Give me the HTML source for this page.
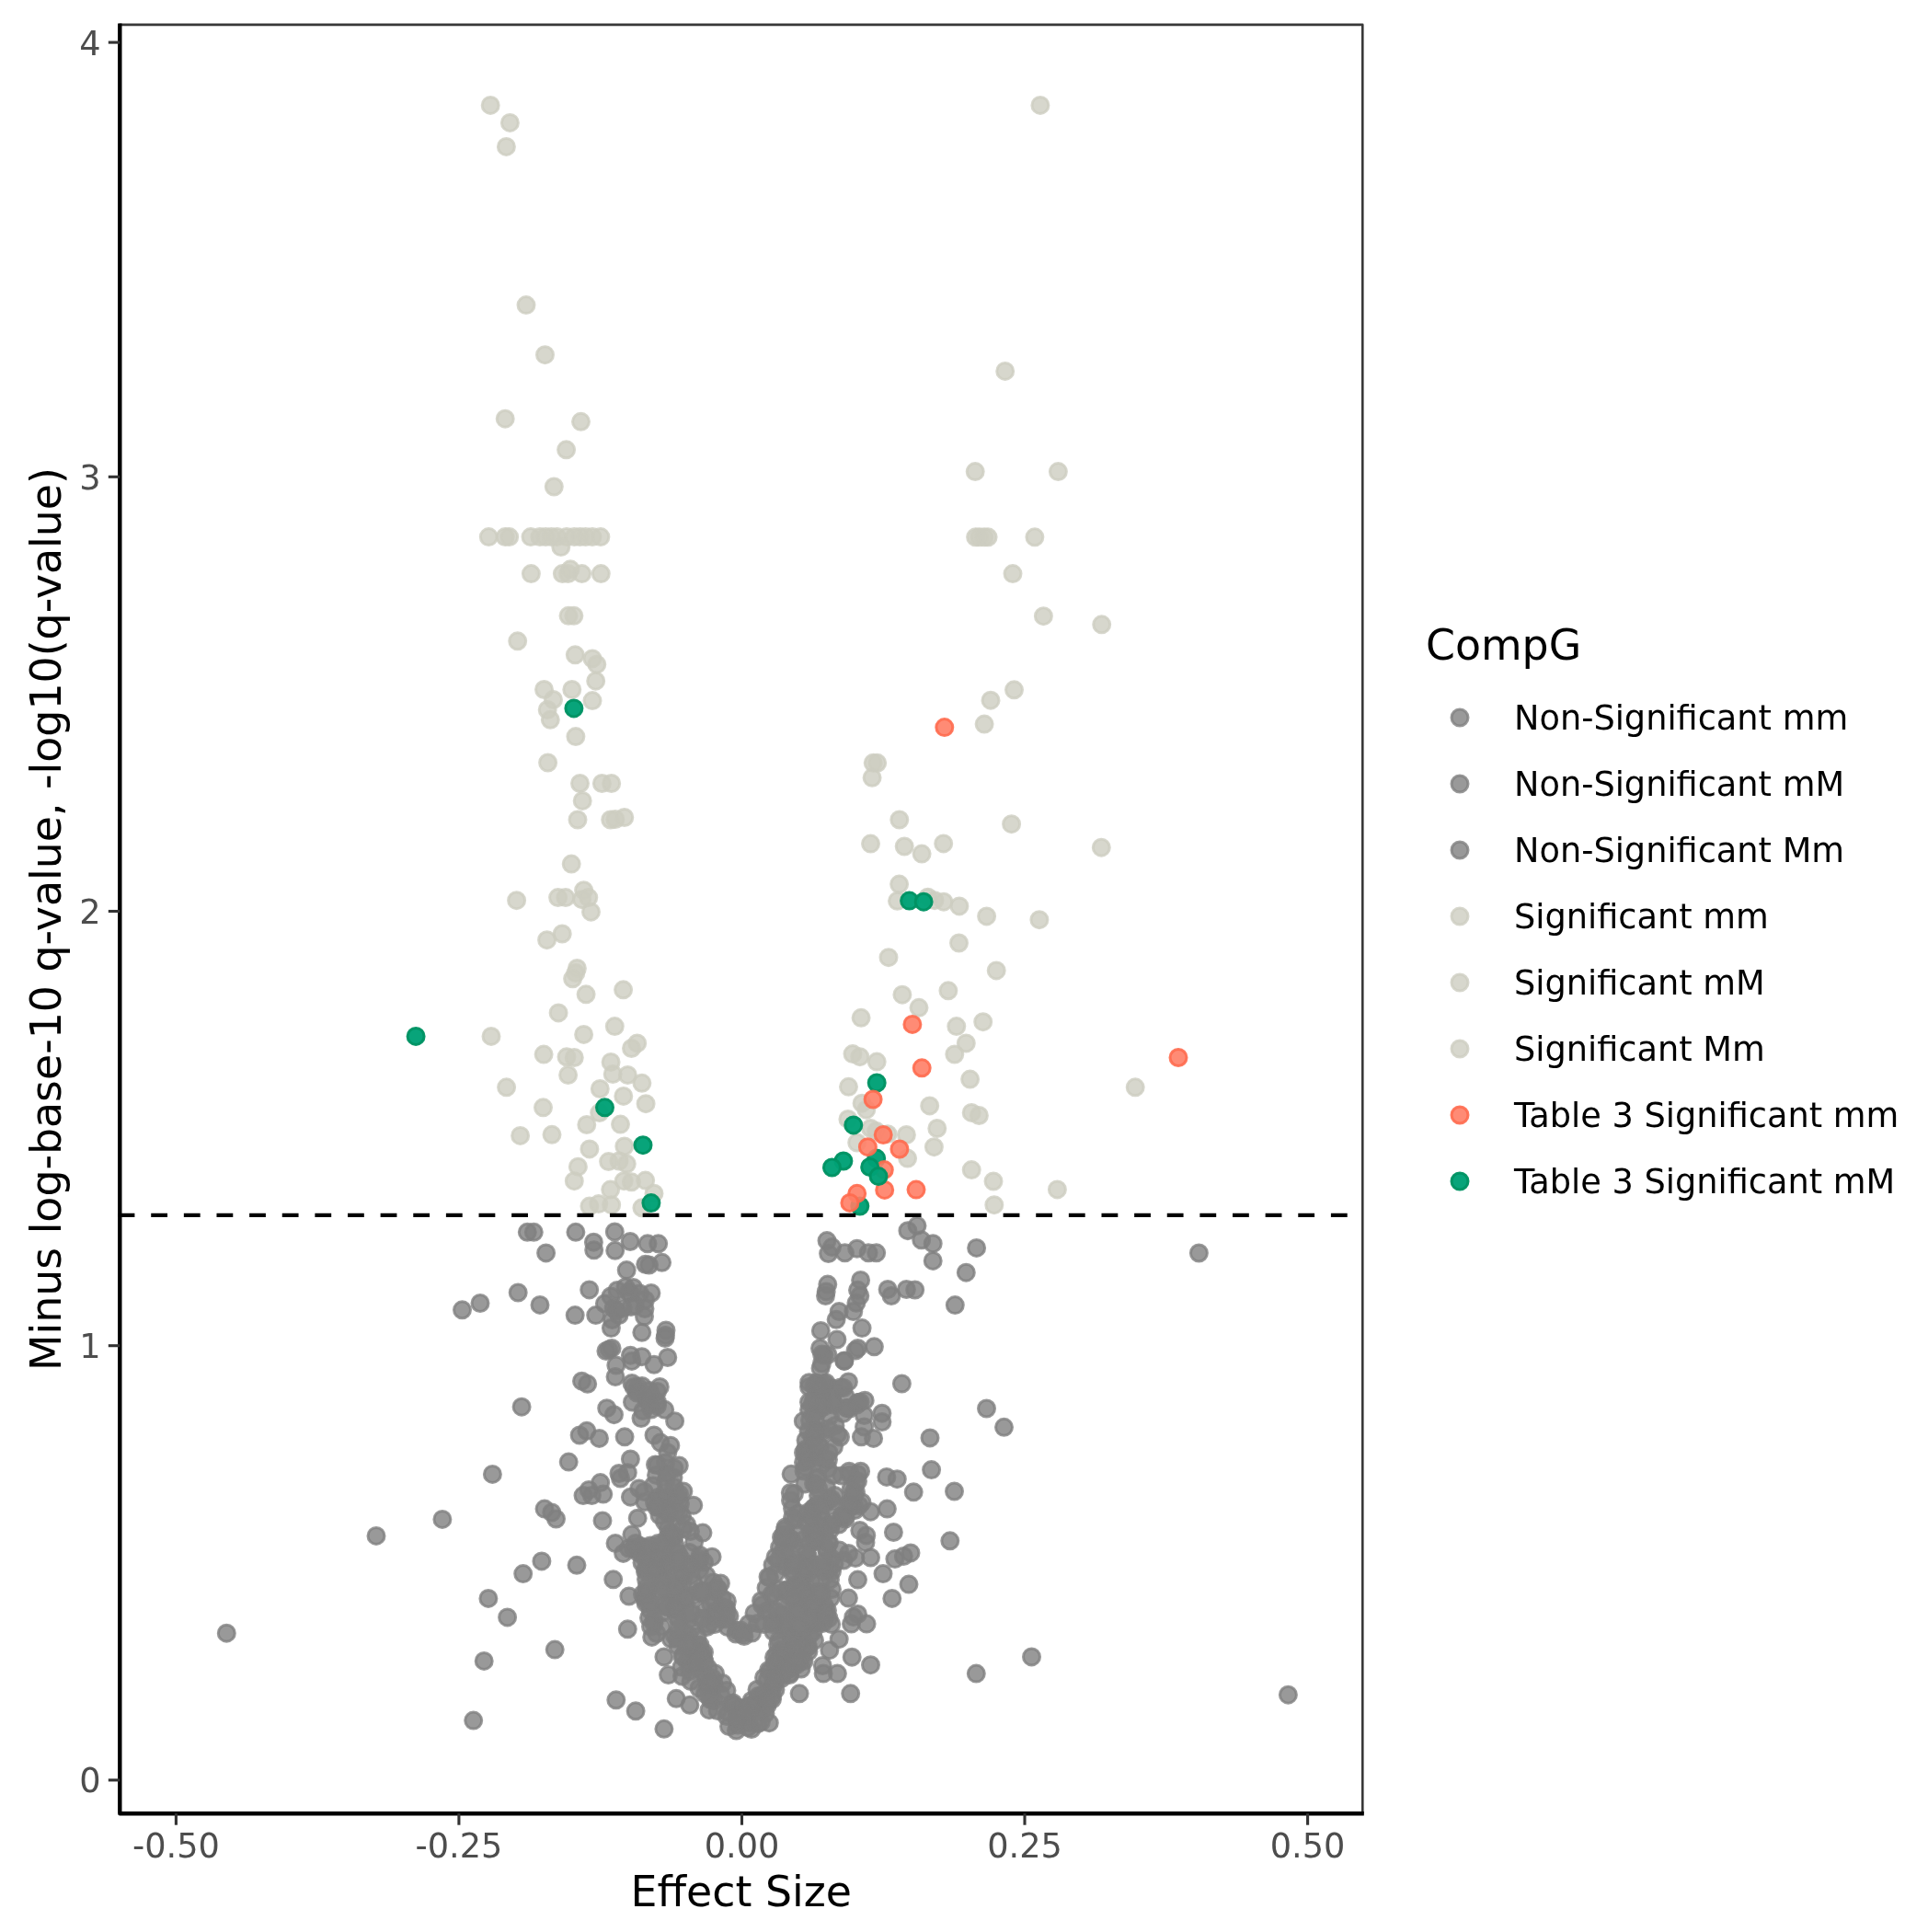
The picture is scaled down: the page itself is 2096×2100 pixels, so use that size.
<!DOCTYPE html>
<html><head><meta charset="utf-8"><title>Volcano plot</title>
<style>
html,body{margin:0;padding:0;background:#fff;}
svg{display:block;filter:blur(0.45px);}
text{font-family:"DejaVu Sans","Liberation Sans",sans-serif;}
.tk{font-size:36.7px;fill:#4d4d4d;}
.lb{font-size:36.7px;fill:#000;}
.ti{font-size:45.8px;fill:#000;}
.g circle{fill:#7f7f7f;fill-opacity:.8;stroke:#7f7f7f;stroke-opacity:.8;stroke-width:3;}
.l circle{fill:#cdcdc1;fill-opacity:.8;stroke:#cdcdc1;stroke-opacity:.8;stroke-width:3;}
.s circle{fill:#ff7e66;fill-opacity:.9;stroke:#ff6a4e;stroke-opacity:.9;stroke-width:3;}
.t circle{fill:#00a176;fill-opacity:.97;stroke:#009363;stroke-opacity:.97;stroke-width:3;}
</style></head><body>
<svg width="2096" height="2100" viewBox="0 0 2096 2100">
<rect width="2096" height="2100" fill="#fff"/>

<g class="g">
<circle cx="829.0" cy="1842.0" r="9.0"/>
<circle cx="749.0" cy="1760.0" r="9.0"/>
<circle cx="862.0" cy="1701.0" r="9.0"/>
<circle cx="765.5" cy="1698.0" r="9.0"/>
<circle cx="862.0" cy="1749.5" r="9.0"/>
<circle cx="884.0" cy="1672.0" r="9.0"/>
<circle cx="921.5" cy="1530.5" r="9.0"/>
<circle cx="685.0" cy="1405.5" r="9.0"/>
<circle cx="916.5" cy="1536.5" r="9.0"/>
<circle cx="748.5" cy="1777.5" r="9.0"/>
<circle cx="727.5" cy="1644.0" r="9.0"/>
<circle cx="907.0" cy="1512.5" r="9.0"/>
<circle cx="745.0" cy="1749.0" r="9.0"/>
<circle cx="741.0" cy="1812.0" r="9.0"/>
<circle cx="733.0" cy="1670.5" r="9.0"/>
<circle cx="777.5" cy="1819.0" r="9.0"/>
<circle cx="893.5" cy="1651.0" r="9.0"/>
<circle cx="800.0" cy="1776.0" r="9.0"/>
<circle cx="739.5" cy="1634.5" r="9.0"/>
<circle cx="898.5" cy="1756.0" r="9.0"/>
<circle cx="903.0" cy="1657.5" r="9.0"/>
<circle cx="739.5" cy="1715.5" r="9.0"/>
<circle cx="688.5" cy="1683.0" r="9.0"/>
<circle cx="905.5" cy="1632.5" r="9.0"/>
<circle cx="876.5" cy="1696.5" r="9.0"/>
<circle cx="887.0" cy="1554.5" r="9.0"/>
<circle cx="893.5" cy="1482.0" r="9.0"/>
<circle cx="864.5" cy="1652.0" r="9.0"/>
<circle cx="879.5" cy="1507.5" r="9.0"/>
<circle cx="753.5" cy="1807.0" r="9.0"/>
<circle cx="924.0" cy="1531.0" r="9.0"/>
<circle cx="850.5" cy="1811.0" r="9.0"/>
<circle cx="754.5" cy="1806.5" r="9.0"/>
<circle cx="719.0" cy="1695.0" r="9.0"/>
<circle cx="758.0" cy="1800.5" r="9.0"/>
<circle cx="770.0" cy="1835.0" r="9.0"/>
<circle cx="768.5" cy="1823.0" r="9.0"/>
<circle cx="732.0" cy="1606.0" r="9.0"/>
<circle cx="727.0" cy="1628.0" r="9.0"/>
<circle cx="878.5" cy="1790.0" r="9.0"/>
<circle cx="719.0" cy="1629.0" r="9.0"/>
<circle cx="935.0" cy="1524.0" r="9.0"/>
<circle cx="711.0" cy="1760.5" r="9.0"/>
<circle cx="699.0" cy="1533.5" r="9.0"/>
<circle cx="888.0" cy="1737.0" r="9.0"/>
<circle cx="737.5" cy="1740.5" r="9.0"/>
<circle cx="890.5" cy="1555.5" r="9.0"/>
<circle cx="856.5" cy="1734.0" r="9.0"/>
<circle cx="888.5" cy="1607.5" r="9.0"/>
<circle cx="823.0" cy="1860.0" r="9.0"/>
<circle cx="891.5" cy="1573.0" r="9.0"/>
<circle cx="885.0" cy="1506.5" r="9.0"/>
<circle cx="904.5" cy="1509.0" r="9.0"/>
<circle cx="755.5" cy="1734.0" r="9.0"/>
<circle cx="894.0" cy="1557.0" r="9.0"/>
<circle cx="854.0" cy="1796.5" r="9.0"/>
<circle cx="743.5" cy="1713.0" r="9.0"/>
<circle cx="896.0" cy="1744.5" r="9.0"/>
<circle cx="896.5" cy="1665.5" r="9.0"/>
<circle cx="894.5" cy="1510.5" r="9.0"/>
<circle cx="851.0" cy="1673.0" r="9.0"/>
<circle cx="866.0" cy="1809.5" r="9.0"/>
<circle cx="760.0" cy="1835.0" r="9.0"/>
<circle cx="731.0" cy="1671.5" r="9.0"/>
<circle cx="716.0" cy="1712.0" r="9.0"/>
<circle cx="883.0" cy="1650.0" r="9.0"/>
<circle cx="868.0" cy="1730.5" r="9.0"/>
<circle cx="830.0" cy="1765.5" r="9.0"/>
<circle cx="759.0" cy="1788.5" r="9.0"/>
<circle cx="893.5" cy="1659.0" r="9.0"/>
<circle cx="839.5" cy="1843.5" r="9.0"/>
<circle cx="733.5" cy="1746.5" r="9.0"/>
<circle cx="888.0" cy="1504.5" r="9.0"/>
<circle cx="841.5" cy="1822.0" r="9.0"/>
<circle cx="714.5" cy="1528.0" r="9.0"/>
<circle cx="686.0" cy="1420.5" r="9.0"/>
<circle cx="869.5" cy="1749.5" r="9.0"/>
<circle cx="669.0" cy="1496.5" r="9.0"/>
<circle cx="721.5" cy="1711.5" r="9.0"/>
<circle cx="877.5" cy="1790.0" r="9.0"/>
<circle cx="707.0" cy="1750.0" r="9.0"/>
<circle cx="708.0" cy="1517.0" r="9.0"/>
<circle cx="917.0" cy="1508.5" r="9.0"/>
<circle cx="851.5" cy="1685.5" r="9.0"/>
<circle cx="720.5" cy="1742.0" r="9.0"/>
<circle cx="875.0" cy="1613.0" r="9.0"/>
<circle cx="738.0" cy="1760.5" r="9.0"/>
<circle cx="869.5" cy="1721.5" r="9.0"/>
<circle cx="814.0" cy="1765.0" r="9.0"/>
<circle cx="769.0" cy="1830.0" r="9.0"/>
<circle cx="824.5" cy="1843.5" r="9.0"/>
<circle cx="760.5" cy="1795.5" r="9.0"/>
<circle cx="791.0" cy="1768.5" r="9.0"/>
<circle cx="851.0" cy="1766.5" r="9.0"/>
<circle cx="859.0" cy="1818.5" r="9.0"/>
<circle cx="800.5" cy="1881.0" r="9.0"/>
<circle cx="841.0" cy="1773.5" r="9.0"/>
<circle cx="789.5" cy="1760.0" r="9.0"/>
<circle cx="737.0" cy="1699.5" r="9.0"/>
<circle cx="866.5" cy="1795.0" r="9.0"/>
<circle cx="803.0" cy="1863.0" r="9.0"/>
<circle cx="913.5" cy="1562.0" r="9.0"/>
<circle cx="773.5" cy="1757.5" r="9.0"/>
<circle cx="845.5" cy="1787.5" r="9.0"/>
<circle cx="724.0" cy="1642.5" r="9.0"/>
<circle cx="926.5" cy="1637.0" r="9.0"/>
<circle cx="701.0" cy="1738.0" r="9.0"/>
<circle cx="702.0" cy="1705.5" r="9.0"/>
<circle cx="858.5" cy="1820.5" r="9.0"/>
<circle cx="761.0" cy="1788.0" r="9.0"/>
<circle cx="883.5" cy="1524.5" r="9.0"/>
<circle cx="752.0" cy="1700.5" r="9.0"/>
<circle cx="736.0" cy="1687.5" r="9.0"/>
<circle cx="932.5" cy="1524.5" r="9.0"/>
<circle cx="882.0" cy="1706.0" r="9.0"/>
<circle cx="884.0" cy="1773.5" r="9.0"/>
<circle cx="772.5" cy="1743.0" r="9.0"/>
<circle cx="702.5" cy="1521.0" r="9.0"/>
<circle cx="890.0" cy="1571.5" r="9.0"/>
<circle cx="917.0" cy="1696.0" r="9.0"/>
<circle cx="670.0" cy="1424.5" r="9.0"/>
<circle cx="727.0" cy="1646.0" r="9.0"/>
<circle cx="723.0" cy="1704.0" r="9.0"/>
<circle cx="837.5" cy="1816.5" r="9.0"/>
<circle cx="906.0" cy="1527.0" r="9.0"/>
<circle cx="881.5" cy="1665.0" r="9.0"/>
<circle cx="689.0" cy="1507.5" r="9.0"/>
<circle cx="775.5" cy="1720.0" r="9.0"/>
<circle cx="864.0" cy="1723.5" r="9.0"/>
<circle cx="888.5" cy="1584.5" r="9.0"/>
<circle cx="873.0" cy="1782.0" r="9.0"/>
<circle cx="900.0" cy="1596.5" r="9.0"/>
<circle cx="780.5" cy="1727.0" r="9.0"/>
<circle cx="776.0" cy="1833.0" r="9.0"/>
<circle cx="692.5" cy="1511.5" r="9.0"/>
<circle cx="730.0" cy="1729.5" r="9.0"/>
<circle cx="817.5" cy="1775.0" r="9.0"/>
<circle cx="823.5" cy="1764.5" r="9.0"/>
<circle cx="719.0" cy="1630.5" r="9.0"/>
<circle cx="915.0" cy="1604.0" r="9.0"/>
<circle cx="757.5" cy="1813.0" r="9.0"/>
<circle cx="757.5" cy="1795.0" r="9.0"/>
<circle cx="694.0" cy="1687.5" r="9.0"/>
<circle cx="880.5" cy="1544.0" r="9.0"/>
<circle cx="725.5" cy="1671.5" r="9.0"/>
<circle cx="664.0" cy="1409.0" r="9.0"/>
<circle cx="698.0" cy="1698.5" r="9.0"/>
<circle cx="723.5" cy="1590.0" r="9.0"/>
<circle cx="774.5" cy="1824.0" r="9.0"/>
<circle cx="715.0" cy="1592.5" r="9.0"/>
<circle cx="860.5" cy="1779.0" r="9.0"/>
<circle cx="742.5" cy="1661.5" r="9.0"/>
<circle cx="883.0" cy="1580.0" r="9.0"/>
<circle cx="853.5" cy="1663.0" r="9.0"/>
<circle cx="667.0" cy="1422.0" r="9.0"/>
<circle cx="705.0" cy="1728.5" r="9.0"/>
<circle cx="875.5" cy="1575.5" r="9.0"/>
<circle cx="859.0" cy="1813.5" r="9.0"/>
<circle cx="932.5" cy="1602.5" r="9.0"/>
<circle cx="723.0" cy="1622.0" r="9.0"/>
<circle cx="707.5" cy="1684.0" r="9.0"/>
<circle cx="791.5" cy="1861.0" r="9.0"/>
<circle cx="853.5" cy="1702.5" r="9.0"/>
<circle cx="861.5" cy="1710.0" r="9.0"/>
<circle cx="696.0" cy="1680.5" r="9.0"/>
<circle cx="743.5" cy="1773.5" r="9.0"/>
<circle cx="920.5" cy="1530.5" r="9.0"/>
<circle cx="885.0" cy="1564.0" r="9.0"/>
<circle cx="880.5" cy="1678.0" r="9.0"/>
<circle cx="884.5" cy="1612.5" r="9.0"/>
<circle cx="886.5" cy="1675.5" r="9.0"/>
<circle cx="888.5" cy="1605.5" r="9.0"/>
<circle cx="742.0" cy="1722.0" r="9.0"/>
<circle cx="863.5" cy="1623.5" r="9.0"/>
<circle cx="889.5" cy="1533.5" r="9.0"/>
<circle cx="752.0" cy="1770.0" r="9.0"/>
<circle cx="795.5" cy="1852.0" r="9.0"/>
<circle cx="785.5" cy="1829.5" r="9.0"/>
<circle cx="701.5" cy="1708.0" r="9.0"/>
<circle cx="736.0" cy="1743.0" r="9.0"/>
<circle cx="706.5" cy="1706.0" r="9.0"/>
<circle cx="758.5" cy="1697.5" r="9.0"/>
<circle cx="889.5" cy="1508.0" r="9.0"/>
<circle cx="904.0" cy="1521.5" r="9.0"/>
<circle cx="744.0" cy="1736.0" r="9.0"/>
<circle cx="915.5" cy="1648.0" r="9.0"/>
<circle cx="929.5" cy="1641.5" r="9.0"/>
<circle cx="801.5" cy="1861.5" r="9.0"/>
<circle cx="819.0" cy="1855.5" r="9.0"/>
<circle cx="708.0" cy="1532.0" r="9.0"/>
<circle cx="876.0" cy="1565.5" r="9.0"/>
<circle cx="733.5" cy="1778.0" r="9.0"/>
<circle cx="746.5" cy="1657.0" r="9.0"/>
<circle cx="904.0" cy="1694.0" r="9.0"/>
<circle cx="893.5" cy="1591.0" r="9.0"/>
<circle cx="886.5" cy="1613.5" r="9.0"/>
<circle cx="690.5" cy="1682.0" r="9.0"/>
<circle cx="768.5" cy="1768.5" r="9.0"/>
<circle cx="859.5" cy="1672.5" r="9.0"/>
<circle cx="841.5" cy="1731.5" r="9.0"/>
<circle cx="873.0" cy="1714.0" r="9.0"/>
<circle cx="896.5" cy="1586.0" r="9.0"/>
<circle cx="693.5" cy="1507.5" r="9.0"/>
<circle cx="899.0" cy="1686.0" r="9.0"/>
<circle cx="894.5" cy="1671.5" r="9.0"/>
<circle cx="870.5" cy="1782.5" r="9.0"/>
<circle cx="890.0" cy="1658.5" r="9.0"/>
<circle cx="877.0" cy="1694.5" r="9.0"/>
<circle cx="765.0" cy="1759.0" r="9.0"/>
<circle cx="901.5" cy="1706.0" r="9.0"/>
<circle cx="835.5" cy="1815.5" r="9.0"/>
<circle cx="784.5" cy="1746.5" r="9.0"/>
<circle cx="900.5" cy="1677.5" r="9.0"/>
<circle cx="779.0" cy="1726.0" r="9.0"/>
<circle cx="891.0" cy="1759.5" r="9.0"/>
<circle cx="758.0" cy="1779.0" r="9.0"/>
<circle cx="864.5" cy="1777.0" r="9.0"/>
<circle cx="891.0" cy="1511.0" r="9.0"/>
<circle cx="765.5" cy="1819.0" r="9.0"/>
<circle cx="776.0" cy="1848.5" r="9.0"/>
<circle cx="741.0" cy="1710.0" r="9.0"/>
<circle cx="739.5" cy="1730.5" r="9.0"/>
<circle cx="762.5" cy="1729.5" r="9.0"/>
<circle cx="747.0" cy="1784.5" r="9.0"/>
<circle cx="717.0" cy="1691.0" r="9.0"/>
<circle cx="714.0" cy="1775.5" r="9.0"/>
<circle cx="853.5" cy="1796.5" r="9.0"/>
<circle cx="683.5" cy="1404.5" r="9.0"/>
<circle cx="847.0" cy="1783.0" r="9.0"/>
<circle cx="937.0" cy="1633.0" r="9.0"/>
<circle cx="775.5" cy="1831.0" r="9.0"/>
<circle cx="861.0" cy="1699.0" r="9.0"/>
<circle cx="729.5" cy="1781.5" r="9.0"/>
<circle cx="719.0" cy="1768.0" r="9.0"/>
<circle cx="890.0" cy="1523.0" r="9.0"/>
<circle cx="840.0" cy="1701.0" r="9.0"/>
<circle cx="882.0" cy="1719.0" r="9.0"/>
<circle cx="777.0" cy="1765.5" r="9.0"/>
<circle cx="729.0" cy="1666.0" r="9.0"/>
<circle cx="813.0" cy="1877.5" r="9.0"/>
<circle cx="902.5" cy="1539.0" r="9.0"/>
<circle cx="740.5" cy="1694.5" r="9.0"/>
<circle cx="877.5" cy="1746.0" r="9.0"/>
<circle cx="754.5" cy="1676.5" r="9.0"/>
<circle cx="750.0" cy="1808.5" r="9.0"/>
<circle cx="889.5" cy="1730.0" r="9.0"/>
<circle cx="834.0" cy="1854.0" r="9.0"/>
<circle cx="846.5" cy="1804.0" r="9.0"/>
<circle cx="751.5" cy="1787.5" r="9.0"/>
<circle cx="836.5" cy="1750.0" r="9.0"/>
<circle cx="839.5" cy="1847.0" r="9.0"/>
<circle cx="883.5" cy="1642.0" r="9.0"/>
<circle cx="904.0" cy="1629.5" r="9.0"/>
<circle cx="912.0" cy="1657.0" r="9.0"/>
<circle cx="735.5" cy="1757.0" r="9.0"/>
<circle cx="904.5" cy="1708.0" r="9.0"/>
<circle cx="759.5" cy="1697.0" r="9.0"/>
<circle cx="887.5" cy="1754.5" r="9.0"/>
<circle cx="897.5" cy="1752.0" r="9.0"/>
<circle cx="880.0" cy="1777.5" r="9.0"/>
<circle cx="723.5" cy="1700.0" r="9.0"/>
<circle cx="872.5" cy="1744.5" r="9.0"/>
<circle cx="847.5" cy="1682.0" r="9.0"/>
<circle cx="665.5" cy="1434.5" r="9.0"/>
<circle cx="852.0" cy="1668.0" r="9.0"/>
<circle cx="703.0" cy="1725.5" r="9.0"/>
<circle cx="771.0" cy="1843.5" r="9.0"/>
<circle cx="907.0" cy="1699.5" r="9.0"/>
<circle cx="848.5" cy="1797.5" r="9.0"/>
<circle cx="873.5" cy="1589.5" r="9.0"/>
<circle cx="797.0" cy="1851.0" r="9.0"/>
<circle cx="814.0" cy="1872.5" r="9.0"/>
<circle cx="751.0" cy="1712.5" r="9.0"/>
<circle cx="843.0" cy="1836.5" r="9.0"/>
<circle cx="874.0" cy="1673.5" r="9.0"/>
<circle cx="868.5" cy="1805.5" r="9.0"/>
<circle cx="833.0" cy="1726.0" r="9.0"/>
<circle cx="884.0" cy="1765.0" r="9.0"/>
<circle cx="790.0" cy="1865.5" r="9.0"/>
<circle cx="763.5" cy="1732.0" r="9.0"/>
<circle cx="849.5" cy="1796.0" r="9.0"/>
<circle cx="719.5" cy="1721.0" r="9.0"/>
<circle cx="875.5" cy="1594.5" r="9.0"/>
<circle cx="690.5" cy="1419.0" r="9.0"/>
<circle cx="890.0" cy="1618.5" r="9.0"/>
<circle cx="713.5" cy="1638.0" r="9.0"/>
<circle cx="673.0" cy="1429.5" r="9.0"/>
<circle cx="777.5" cy="1742.5" r="9.0"/>
<circle cx="900.5" cy="1586.5" r="9.0"/>
<circle cx="874.0" cy="1599.0" r="9.0"/>
<circle cx="726.5" cy="1661.5" r="9.0"/>
<circle cx="768.0" cy="1712.5" r="9.0"/>
<circle cx="715.5" cy="1627.5" r="9.0"/>
<circle cx="692.5" cy="1514.0" r="9.0"/>
<circle cx="780.0" cy="1859.5" r="9.0"/>
<circle cx="879.5" cy="1532.5" r="9.0"/>
<circle cx="823.5" cy="1847.0" r="9.0"/>
<circle cx="783.5" cy="1842.0" r="9.0"/>
<circle cx="878.5" cy="1735.0" r="9.0"/>
<circle cx="908.0" cy="1549.5" r="9.0"/>
<circle cx="698.5" cy="1733.0" r="9.0"/>
<circle cx="737.0" cy="1750.5" r="9.0"/>
<circle cx="713.5" cy="1692.0" r="9.0"/>
<circle cx="865.5" cy="1807.5" r="9.0"/>
<circle cx="861.5" cy="1807.0" r="9.0"/>
<circle cx="930.0" cy="1612.0" r="9.0"/>
<circle cx="749.5" cy="1702.5" r="9.0"/>
<circle cx="870.5" cy="1787.0" r="9.0"/>
<circle cx="843.0" cy="1762.0" r="9.0"/>
<circle cx="868.0" cy="1645.0" r="9.0"/>
<circle cx="783.0" cy="1759.5" r="9.0"/>
<circle cx="742.0" cy="1800.5" r="9.0"/>
<circle cx="732.0" cy="1748.5" r="9.0"/>
<circle cx="862.0" cy="1780.5" r="9.0"/>
<circle cx="727.0" cy="1730.5" r="9.0"/>
<circle cx="704.5" cy="1694.5" r="9.0"/>
<circle cx="886.5" cy="1555.0" r="9.0"/>
<circle cx="770.5" cy="1765.5" r="9.0"/>
<circle cx="801.0" cy="1859.0" r="9.0"/>
<circle cx="750.0" cy="1799.5" r="9.0"/>
<circle cx="900.0" cy="1472.5" r="9.0"/>
<circle cx="788.5" cy="1748.5" r="9.0"/>
<circle cx="752.0" cy="1752.5" r="9.0"/>
<circle cx="919.0" cy="1648.0" r="9.0"/>
<circle cx="841.5" cy="1801.5" r="9.0"/>
<circle cx="854.5" cy="1729.0" r="9.0"/>
<circle cx="861.5" cy="1649.5" r="9.0"/>
<circle cx="903.0" cy="1737.0" r="9.0"/>
<circle cx="824.0" cy="1873.5" r="9.0"/>
<circle cx="879.0" cy="1795.0" r="9.0"/>
<circle cx="751.0" cy="1754.0" r="9.0"/>
<circle cx="871.5" cy="1732.5" r="9.0"/>
<circle cx="724.5" cy="1677.0" r="9.0"/>
<circle cx="881.5" cy="1762.5" r="9.0"/>
<circle cx="889.5" cy="1511.0" r="9.0"/>
<circle cx="833.0" cy="1751.5" r="9.0"/>
<circle cx="884.5" cy="1639.0" r="9.0"/>
<circle cx="765.5" cy="1796.0" r="9.0"/>
<circle cx="755.5" cy="1799.0" r="9.0"/>
<circle cx="896.0" cy="1708.0" r="9.0"/>
<circle cx="714.5" cy="1512.5" r="9.0"/>
<circle cx="876.5" cy="1739.0" r="9.0"/>
<circle cx="907.5" cy="1625.5" r="9.0"/>
<circle cx="776.0" cy="1829.5" r="9.0"/>
<circle cx="761.5" cy="1797.0" r="9.0"/>
<circle cx="703.5" cy="1729.5" r="9.0"/>
<circle cx="900.5" cy="1553.0" r="9.0"/>
<circle cx="711.0" cy="1764.5" r="9.0"/>
<circle cx="906.5" cy="1572.5" r="9.0"/>
<circle cx="792.5" cy="1876.5" r="9.0"/>
<circle cx="822.0" cy="1851.5" r="9.0"/>
<circle cx="736.5" cy="1627.0" r="9.0"/>
<circle cx="707.0" cy="1680.0" r="9.0"/>
<circle cx="701.5" cy="1516.0" r="9.0"/>
<circle cx="878.5" cy="1692.0" r="9.0"/>
<circle cx="910.5" cy="1559.0" r="9.0"/>
<circle cx="886.0" cy="1541.5" r="9.0"/>
<circle cx="851.0" cy="1758.5" r="9.0"/>
<circle cx="722.5" cy="1745.5" r="9.0"/>
<circle cx="801.5" cy="1870.5" r="9.0"/>
<circle cx="906.0" cy="1653.0" r="9.0"/>
<circle cx="884.0" cy="1538.0" r="9.0"/>
<circle cx="864.5" cy="1764.5" r="9.0"/>
<circle cx="865.0" cy="1804.5" r="9.0"/>
<circle cx="901.0" cy="1759.0" r="9.0"/>
<circle cx="883.0" cy="1563.0" r="9.0"/>
<circle cx="815.0" cy="1854.0" r="9.0"/>
<circle cx="770.0" cy="1813.5" r="9.0"/>
<circle cx="828.5" cy="1744.5" r="9.0"/>
<circle cx="734.5" cy="1695.5" r="9.0"/>
<circle cx="832.0" cy="1862.5" r="9.0"/>
<circle cx="887.0" cy="1673.5" r="9.0"/>
<circle cx="898.5" cy="1683.5" r="9.0"/>
<circle cx="701.0" cy="1422.5" r="9.0"/>
<circle cx="726.0" cy="1747.0" r="9.0"/>
<circle cx="875.0" cy="1729.0" r="9.0"/>
<circle cx="872.0" cy="1791.5" r="9.0"/>
<circle cx="876.0" cy="1581.0" r="9.0"/>
<circle cx="723.5" cy="1610.5" r="9.0"/>
<circle cx="714.0" cy="1704.0" r="9.0"/>
<circle cx="701.0" cy="1632.5" r="9.0"/>
<circle cx="700.5" cy="1621.5" r="9.0"/>
<circle cx="905.0" cy="1522.5" r="9.0"/>
<circle cx="836.5" cy="1714.5" r="9.0"/>
<circle cx="793.0" cy="1756.5" r="9.0"/>
<circle cx="873.5" cy="1579.0" r="9.0"/>
<circle cx="722.0" cy="1726.5" r="9.0"/>
<circle cx="886.0" cy="1638.5" r="9.0"/>
<circle cx="878.0" cy="1587.5" r="9.0"/>
<circle cx="734.0" cy="1747.0" r="9.0"/>
<circle cx="847.0" cy="1822.5" r="9.0"/>
<circle cx="928.0" cy="1636.0" r="9.0"/>
<circle cx="895.5" cy="1529.0" r="9.0"/>
<circle cx="738.5" cy="1643.5" r="9.0"/>
<circle cx="928.0" cy="1622.0" r="9.0"/>
<circle cx="773.0" cy="1828.5" r="9.0"/>
<circle cx="827.5" cy="1740.0" r="9.0"/>
<circle cx="751.0" cy="1827.5" r="9.0"/>
<circle cx="719.5" cy="1678.5" r="9.0"/>
<circle cx="789.5" cy="1748.0" r="9.0"/>
<circle cx="893.5" cy="1759.0" r="9.0"/>
<circle cx="849.5" cy="1671.0" r="9.0"/>
<circle cx="763.5" cy="1798.0" r="9.0"/>
<circle cx="751.0" cy="1791.0" r="9.0"/>
<circle cx="737.5" cy="1689.0" r="9.0"/>
<circle cx="881.0" cy="1701.5" r="9.0"/>
<circle cx="749.5" cy="1687.5" r="9.0"/>
<circle cx="855.0" cy="1728.0" r="9.0"/>
<circle cx="717.0" cy="1647.0" r="9.0"/>
<circle cx="688.5" cy="1399.5" r="9.0"/>
<circle cx="698.0" cy="1506.5" r="9.0"/>
<circle cx="737.0" cy="1789.0" r="9.0"/>
<circle cx="702.5" cy="1716.5" r="9.0"/>
<circle cx="706.0" cy="1526.5" r="9.0"/>
<circle cx="841.0" cy="1763.0" r="9.0"/>
<circle cx="853.0" cy="1794.0" r="9.0"/>
<circle cx="885.5" cy="1701.0" r="9.0"/>
<circle cx="766.5" cy="1750.5" r="9.0"/>
<circle cx="702.0" cy="1742.5" r="9.0"/>
<circle cx="894.5" cy="1764.5" r="9.0"/>
<circle cx="902.5" cy="1663.0" r="9.0"/>
<circle cx="914.0" cy="1508.0" r="9.0"/>
<circle cx="844.5" cy="1798.0" r="9.0"/>
<circle cx="713.5" cy="1603.5" r="9.0"/>
<circle cx="801.0" cy="1772.5" r="9.0"/>
<circle cx="671.0" cy="1402.5" r="9.0"/>
<circle cx="849.5" cy="1824.5" r="9.0"/>
<circle cx="760.5" cy="1706.5" r="9.0"/>
<circle cx="849.5" cy="1793.0" r="9.0"/>
<circle cx="843.0" cy="1710.5" r="9.0"/>
<circle cx="710.0" cy="1615.0" r="9.0"/>
<circle cx="727.5" cy="1643.0" r="9.0"/>
<circle cx="711.5" cy="1633.0" r="9.0"/>
<circle cx="852.5" cy="1739.5" r="9.0"/>
<circle cx="924.0" cy="1634.0" r="9.0"/>
<circle cx="919.0" cy="1517.5" r="9.0"/>
<circle cx="833.0" cy="1851.5" r="9.0"/>
<circle cx="854.0" cy="1660.0" r="9.0"/>
<circle cx="885.5" cy="1556.5" r="9.0"/>
<circle cx="863.0" cy="1792.5" r="9.0"/>
<circle cx="868.0" cy="1802.0" r="9.0"/>
<circle cx="883.5" cy="1742.0" r="9.0"/>
<circle cx="695.5" cy="1406.0" r="9.0"/>
<circle cx="747.0" cy="1806.0" r="9.0"/>
<circle cx="741.5" cy="1648.0" r="9.0"/>
<circle cx="879.0" cy="1577.5" r="9.0"/>
<circle cx="893.5" cy="1472.0" r="9.0"/>
<circle cx="899.5" cy="1750.5" r="9.0"/>
<circle cx="874.5" cy="1730.0" r="9.0"/>
<circle cx="866.0" cy="1751.5" r="9.0"/>
<circle cx="743.0" cy="1799.5" r="9.0"/>
<circle cx="871.5" cy="1723.0" r="9.0"/>
<circle cx="714.5" cy="1524.0" r="9.0"/>
<circle cx="797.5" cy="1854.0" r="9.0"/>
<circle cx="874.0" cy="1713.5" r="9.0"/>
<circle cx="918.0" cy="1479.0" r="9.0"/>
<circle cx="718.0" cy="1729.0" r="9.0"/>
<circle cx="901.0" cy="1629.5" r="9.0"/>
<circle cx="741.5" cy="1822.0" r="9.0"/>
<circle cx="772.5" cy="1847.5" r="9.0"/>
<circle cx="930.0" cy="1468.0" r="9.0"/>
<circle cx="885.5" cy="1783.0" r="9.0"/>
<circle cx="733.0" cy="1596.0" r="9.0"/>
<circle cx="779.0" cy="1751.0" r="9.0"/>
<circle cx="861.5" cy="1639.5" r="9.0"/>
<circle cx="860.5" cy="1674.0" r="9.0"/>
<circle cx="701.5" cy="1413.0" r="9.0"/>
<circle cx="706.5" cy="1743.0" r="9.0"/>
<circle cx="699.5" cy="1691.5" r="9.0"/>
<circle cx="895.5" cy="1755.5" r="9.0"/>
<circle cx="848.5" cy="1756.0" r="9.0"/>
<circle cx="853.0" cy="1687.0" r="9.0"/>
<circle cx="831.5" cy="1843.0" r="9.0"/>
<circle cx="886.0" cy="1742.5" r="9.0"/>
<circle cx="902.5" cy="1717.0" r="9.0"/>
<circle cx="848.0" cy="1803.5" r="9.0"/>
<circle cx="776.5" cy="1755.5" r="9.0"/>
<circle cx="702.5" cy="1682.5" r="9.0"/>
<circle cx="865.5" cy="1786.0" r="9.0"/>
<circle cx="722.0" cy="1683.5" r="9.0"/>
<circle cx="761.0" cy="1694.0" r="9.0"/>
<circle cx="736.5" cy="1781.5" r="9.0"/>
<circle cx="725.0" cy="1602.5" r="9.0"/>
<circle cx="925.5" cy="1635.5" r="9.0"/>
<circle cx="847.0" cy="1765.5" r="9.0"/>
<circle cx="871.5" cy="1711.0" r="9.0"/>
<circle cx="805.5" cy="1856.5" r="9.0"/>
<circle cx="896.5" cy="1635.5" r="9.0"/>
<circle cx="892.5" cy="1517.5" r="9.0"/>
<circle cx="706.0" cy="1511.5" r="9.0"/>
<circle cx="840.5" cy="1832.5" r="9.0"/>
<circle cx="842.5" cy="1808.0" r="9.0"/>
<circle cx="892.0" cy="1720.5" r="9.0"/>
<circle cx="839.5" cy="1834.5" r="9.0"/>
<circle cx="770.5" cy="1830.0" r="9.0"/>
<circle cx="722.5" cy="1654.0" r="9.0"/>
<circle cx="705.5" cy="1758.5" r="9.0"/>
<circle cx="761.0" cy="1690.5" r="9.0"/>
<circle cx="901.5" cy="1677.0" r="9.0"/>
<circle cx="846.5" cy="1695.5" r="9.0"/>
<circle cx="805.0" cy="1772.0" r="9.0"/>
<circle cx="827.5" cy="1871.5" r="9.0"/>
<circle cx="712.5" cy="1592.0" r="9.0"/>
<circle cx="839.5" cy="1765.5" r="9.0"/>
<circle cx="894.0" cy="1522.5" r="9.0"/>
<circle cx="853.5" cy="1771.5" r="9.0"/>
<circle cx="885.0" cy="1763.0" r="9.0"/>
<circle cx="873.5" cy="1703.0" r="9.0"/>
<circle cx="817.0" cy="1848.5" r="9.0"/>
<circle cx="766.5" cy="1841.0" r="9.0"/>
<circle cx="716.0" cy="1638.5" r="9.0"/>
<circle cx="776.0" cy="1729.5" r="9.0"/>
<circle cx="746.5" cy="1788.0" r="9.0"/>
<circle cx="859.5" cy="1631.0" r="9.0"/>
<circle cx="894.0" cy="1528.0" r="9.0"/>
<circle cx="712.5" cy="1703.0" r="9.0"/>
<circle cx="891.0" cy="1763.5" r="9.0"/>
<circle cx="683.5" cy="1683.0" r="9.0"/>
<circle cx="839.0" cy="1733.0" r="9.0"/>
<circle cx="843.5" cy="1809.5" r="9.0"/>
<circle cx="766.0" cy="1806.0" r="9.0"/>
<circle cx="893.0" cy="1731.5" r="9.0"/>
<circle cx="809.0" cy="1778.5" r="9.0"/>
<circle cx="915.0" cy="1647.5" r="9.0"/>
<circle cx="889.0" cy="1635.0" r="9.0"/>
<circle cx="906.0" cy="1525.0" r="9.0"/>
<circle cx="869.5" cy="1725.5" r="9.0"/>
<circle cx="802.0" cy="1875.0" r="9.0"/>
<circle cx="885.5" cy="1520.5" r="9.0"/>
<circle cx="906.0" cy="1603.5" r="9.0"/>
<circle cx="687.5" cy="1524.0" r="9.0"/>
<circle cx="864.0" cy="1725.5" r="9.0"/>
<circle cx="874.0" cy="1805.5" r="9.0"/>
<circle cx="888.5" cy="1525.5" r="9.0"/>
<circle cx="876.0" cy="1704.5" r="9.0"/>
<circle cx="896.0" cy="1473.0" r="9.0"/>
<circle cx="764.5" cy="1802.5" r="9.0"/>
<circle cx="700.5" cy="1431.0" r="9.0"/>
<circle cx="734.5" cy="1726.0" r="9.0"/>
<circle cx="737.5" cy="1696.0" r="9.0"/>
<circle cx="880.0" cy="1643.0" r="9.0"/>
<circle cx="878.0" cy="1761.0" r="9.0"/>
<circle cx="817.0" cy="1879.5" r="9.0"/>
<circle cx="930.0" cy="1693.5" r="9.0"/>
<circle cx="894.0" cy="1509.0" r="9.0"/>
<circle cx="863.0" cy="1678.5" r="9.0"/>
<circle cx="893.0" cy="1637.0" r="9.0"/>
<circle cx="687.0" cy="1503.5" r="9.0"/>
<circle cx="691.0" cy="1677.5" r="9.0"/>
<circle cx="901.0" cy="1579.0" r="9.0"/>
<circle cx="807.0" cy="1862.5" r="9.0"/>
<circle cx="848.5" cy="1820.5" r="9.0"/>
<circle cx="830.5" cy="1823.5" r="9.0"/>
<circle cx="817.0" cy="1854.0" r="9.0"/>
<circle cx="855.5" cy="1814.5" r="9.0"/>
<circle cx="820.0" cy="1753.5" r="9.0"/>
<circle cx="720.0" cy="1716.0" r="9.0"/>
<circle cx="895.0" cy="1703.5" r="9.0"/>
<circle cx="835.0" cy="1847.0" r="9.0"/>
<circle cx="930.5" cy="1622.0" r="9.0"/>
<circle cx="925.0" cy="1619.0" r="9.0"/>
<circle cx="869.5" cy="1666.0" r="9.0"/>
<circle cx="785.0" cy="1737.0" r="9.0"/>
<circle cx="871.0" cy="1804.5" r="9.0"/>
<circle cx="807.0" cy="1776.0" r="9.0"/>
<circle cx="783.5" cy="1754.5" r="9.0"/>
<circle cx="734.5" cy="1643.0" r="9.0"/>
<circle cx="885.5" cy="1571.5" r="9.0"/>
<circle cx="922.5" cy="1634.0" r="9.0"/>
<circle cx="867.5" cy="1753.0" r="9.0"/>
<circle cx="845.0" cy="1751.5" r="9.0"/>
<circle cx="891.5" cy="1642.5" r="9.0"/>
<circle cx="762.5" cy="1759.5" r="9.0"/>
<circle cx="745.5" cy="1738.0" r="9.0"/>
<circle cx="750.0" cy="1816.5" r="9.0"/>
<circle cx="758.0" cy="1808.0" r="9.0"/>
<circle cx="912.5" cy="1685.0" r="9.0"/>
<circle cx="846.5" cy="1728.0" r="9.0"/>
<circle cx="807.5" cy="1871.5" r="9.0"/>
<circle cx="861.0" cy="1706.5" r="9.0"/>
<circle cx="680.0" cy="1399.0" r="9.0"/>
<circle cx="733.5" cy="1723.0" r="9.0"/>
<circle cx="877.0" cy="1687.5" r="9.0"/>
<circle cx="702.0" cy="1734.0" r="9.0"/>
<circle cx="807.5" cy="1865.0" r="9.0"/>
<circle cx="738.5" cy="1624.0" r="9.0"/>
<circle cx="760.5" cy="1730.5" r="9.0"/>
<circle cx="898.0" cy="1503.0" r="9.0"/>
<circle cx="750.5" cy="1664.5" r="9.0"/>
<circle cx="896.5" cy="1697.5" r="9.0"/>
<circle cx="885.5" cy="1665.0" r="9.0"/>
<circle cx="801.0" cy="1867.0" r="9.0"/>
<circle cx="870.5" cy="1771.5" r="9.0"/>
<circle cx="879.0" cy="1555.5" r="9.0"/>
<circle cx="856.0" cy="1672.0" r="9.0"/>
<circle cx="731.0" cy="1669.0" r="9.0"/>
<circle cx="704.0" cy="1703.5" r="9.0"/>
<circle cx="842.0" cy="1827.5" r="9.0"/>
<circle cx="882.0" cy="1649.0" r="9.0"/>
<circle cx="898.5" cy="1616.5" r="9.0"/>
<circle cx="711.5" cy="1707.5" r="9.0"/>
<circle cx="863.0" cy="1736.5" r="9.0"/>
<circle cx="790.0" cy="1752.5" r="9.0"/>
<circle cx="733.0" cy="1616.5" r="9.0"/>
<circle cx="737.5" cy="1770.5" r="9.0"/>
<circle cx="859.5" cy="1688.0" r="9.0"/>
<circle cx="810.0" cy="1859.0" r="9.0"/>
<circle cx="854.5" cy="1761.5" r="9.0"/>
<circle cx="707.5" cy="1768.0" r="9.0"/>
<circle cx="835.0" cy="1714.0" r="9.0"/>
<circle cx="719.5" cy="1753.0" r="9.0"/>
<circle cx="763.5" cy="1729.5" r="9.0"/>
<circle cx="834.5" cy="1826.0" r="9.0"/>
<circle cx="841.0" cy="1826.0" r="9.0"/>
<circle cx="892.0" cy="1505.0" r="9.0"/>
<circle cx="904.5" cy="1727.5" r="9.0"/>
<circle cx="868.5" cy="1768.0" r="9.0"/>
<circle cx="887.5" cy="1503.0" r="9.0"/>
<circle cx="753.5" cy="1720.0" r="9.0"/>
<circle cx="892.5" cy="1734.0" r="9.0"/>
<circle cx="934.0" cy="1636.5" r="9.0"/>
<circle cx="931.5" cy="1527.0" r="9.0"/>
<circle cx="677.0" cy="1422.0" r="9.0"/>
<circle cx="715.5" cy="1677.5" r="9.0"/>
<circle cx="843.0" cy="1692.5" r="9.0"/>
<circle cx="919.0" cy="1651.0" r="9.0"/>
<circle cx="871.0" cy="1814.0" r="9.0"/>
<circle cx="922.5" cy="1688.5" r="9.0"/>
<circle cx="878.0" cy="1656.5" r="9.0"/>
<circle cx="879.5" cy="1524.0" r="9.0"/>
<circle cx="895.5" cy="1504.0" r="9.0"/>
<circle cx="924.0" cy="1603.0" r="9.0"/>
<circle cx="823.0" cy="1836.5" r="9.0"/>
<circle cx="734.0" cy="1680.0" r="9.0"/>
<circle cx="889.5" cy="1625.5" r="9.0"/>
<circle cx="790.0" cy="1837.5" r="9.0"/>
<circle cx="891.5" cy="1465.5" r="9.0"/>
<circle cx="866.5" cy="1698.0" r="9.0"/>
<circle cx="522.0" cy="1416.5" r="9.0"/>
<circle cx="502.5" cy="1423.8" r="9.0"/>
<circle cx="986.9" cy="1337.7" r="9.0"/>
<circle cx="997.0" cy="1332.3" r="9.0"/>
<circle cx="1001.7" cy="1347.8" r="9.0"/>
<circle cx="1014.2" cy="1351.7" r="9.0"/>
<circle cx="1014.2" cy="1370.4" r="9.0"/>
<circle cx="1061.6" cy="1356.4" r="9.0"/>
<circle cx="1050.3" cy="1383.2" r="9.0"/>
<circle cx="1038.3" cy="1418.6" r="9.0"/>
<circle cx="899.0" cy="1348.6" r="9.0"/>
<circle cx="904.5" cy="1355.6" r="9.0"/>
<circle cx="900.6" cy="1362.6" r="9.0"/>
<circle cx="918.5" cy="1361.8" r="9.0"/>
<circle cx="931.7" cy="1357.2" r="9.0"/>
<circle cx="944.1" cy="1361.8" r="9.0"/>
<circle cx="952.7" cy="1361.8" r="9.0"/>
<circle cx="899.8" cy="1396.1" r="9.0"/>
<circle cx="898.2" cy="1403.9" r="9.0"/>
<circle cx="897.5" cy="1408.5" r="9.0"/>
<circle cx="935.6" cy="1391.4" r="9.0"/>
<circle cx="932.5" cy="1402.3" r="9.0"/>
<circle cx="934.8" cy="1408.5" r="9.0"/>
<circle cx="930.9" cy="1416.3" r="9.0"/>
<circle cx="965.1" cy="1401.5" r="9.0"/>
<circle cx="969.0" cy="1408.5" r="9.0"/>
<circle cx="985.4" cy="1401.5" r="9.0"/>
<circle cx="994.7" cy="1402.0" r="9.0"/>
<circle cx="912.2" cy="1425.6" r="9.0"/>
<circle cx="927.8" cy="1425.6" r="9.0"/>
<circle cx="535.4" cy="1602.4" r="9.0"/>
<circle cx="480.9" cy="1651.4" r="9.0"/>
<circle cx="409.0" cy="1669.4" r="9.0"/>
<circle cx="530.9" cy="1737.4" r="9.0"/>
<circle cx="526.2" cy="1805.4" r="9.0"/>
<circle cx="514.7" cy="1870.1" r="9.0"/>
<circle cx="246.3" cy="1775.2" r="9.0"/>
<circle cx="1400.4" cy="1842.2" r="9.0"/>
<circle cx="1303.4" cy="1362.0" r="9.0"/>
<circle cx="573.3" cy="1339.3" r="9.0"/>
<circle cx="580.3" cy="1339.3" r="9.0"/>
<circle cx="625.9" cy="1339.3" r="9.0"/>
<circle cx="668.3" cy="1339.0" r="9.0"/>
<circle cx="645.4" cy="1350.2" r="9.0"/>
<circle cx="645.7" cy="1358.8" r="9.0"/>
<circle cx="685.1" cy="1349.5" r="9.0"/>
<circle cx="668.7" cy="1359.3" r="9.0"/>
<circle cx="704.0" cy="1351.8" r="9.0"/>
<circle cx="715.7" cy="1351.8" r="9.0"/>
<circle cx="593.6" cy="1361.9" r="9.0"/>
<circle cx="681.2" cy="1380.6" r="9.0"/>
<circle cx="701.7" cy="1374.3" r="9.0"/>
<circle cx="705.6" cy="1375.1" r="9.0"/>
<circle cx="719.6" cy="1372.3" r="9.0"/>
<circle cx="640.7" cy="1401.9" r="9.0"/>
<circle cx="563.2" cy="1405.0" r="9.0"/>
<circle cx="587.0" cy="1418.4" r="9.0"/>
<circle cx="707.9" cy="1405.5" r="9.0"/>
<circle cx="697.8" cy="1448.3" r="9.0"/>
<circle cx="664.4" cy="1443.6" r="9.0"/>
<circle cx="647.7" cy="1429.6" r="9.0"/>
<circle cx="625.2" cy="1429.6" r="9.0"/>
<circle cx="657.4" cy="1417.1" r="9.0"/>
<circle cx="724.0" cy="1445.9" r="9.0"/>
<circle cx="723.5" cy="1451.4" r="9.0"/>
<circle cx="723.0" cy="1454.5" r="9.0"/>
<circle cx="662.0" cy="1466.9" r="9.0"/>
<circle cx="665.1" cy="1465.4" r="9.0"/>
<circle cx="658.9" cy="1468.5" r="9.0"/>
<circle cx="685.4" cy="1473.2" r="9.0"/>
<circle cx="686.9" cy="1479.4" r="9.0"/>
<circle cx="697.8" cy="1474.7" r="9.0"/>
<circle cx="711.0" cy="1483.3" r="9.0"/>
<circle cx="725.8" cy="1475.5" r="9.0"/>
<circle cx="669.8" cy="1484.0" r="9.0"/>
<circle cx="632.5" cy="1501.2" r="9.0"/>
<circle cx="638.7" cy="1504.3" r="9.0"/>
<circle cx="717.3" cy="1507.4" r="9.0"/>
<circle cx="733.6" cy="1544.7" r="9.0"/>
<circle cx="697.0" cy="1541.6" r="9.0"/>
<circle cx="722.7" cy="1532.3" r="9.0"/>
<circle cx="567.1" cy="1529.2" r="9.0"/>
<circle cx="659.7" cy="1530.7" r="9.0"/>
<circle cx="667.5" cy="1537.7" r="9.0"/>
<circle cx="630.1" cy="1560.0" r="9.0"/>
<circle cx="637.9" cy="1555.3" r="9.0"/>
<circle cx="651.5" cy="1563.4" r="9.0"/>
<circle cx="679.1" cy="1561.8" r="9.0"/>
<circle cx="711.0" cy="1560.0" r="9.0"/>
<circle cx="718.0" cy="1568.1" r="9.0"/>
<circle cx="728.9" cy="1571.2" r="9.0"/>
<circle cx="725.8" cy="1579.0" r="9.0"/>
<circle cx="618.2" cy="1589.1" r="9.0"/>
<circle cx="685.4" cy="1586.0" r="9.0"/>
<circle cx="738.3" cy="1593.0" r="9.0"/>
<circle cx="742.9" cy="1621.0" r="9.0"/>
<circle cx="672.9" cy="1601.5" r="9.0"/>
<circle cx="682.3" cy="1600.7" r="9.0"/>
<circle cx="674.5" cy="1607.0" r="9.0"/>
<circle cx="643.4" cy="1625.6" r="9.0"/>
<circle cx="652.7" cy="1611.6" r="9.0"/>
<circle cx="640.2" cy="1619.4" r="9.0"/>
<circle cx="634.0" cy="1625.6" r="9.0"/>
<circle cx="655.8" cy="1624.1" r="9.0"/>
<circle cx="685.4" cy="1627.2" r="9.0"/>
<circle cx="694.7" cy="1617.9" r="9.0"/>
<circle cx="909.1" cy="1434.3" r="9.0"/>
<circle cx="937.1" cy="1443.6" r="9.0"/>
<circle cx="892.3" cy="1446.4" r="9.0"/>
<circle cx="909.9" cy="1456.0" r="9.0"/>
<circle cx="950.4" cy="1463.8" r="9.0"/>
<circle cx="932.5" cy="1465.4" r="9.0"/>
<circle cx="892.0" cy="1487.2" r="9.0"/>
<circle cx="917.7" cy="1479.4" r="9.0"/>
<circle cx="980.4" cy="1504.0" r="9.0"/>
<circle cx="879.6" cy="1502.7" r="9.0"/>
<circle cx="922.4" cy="1501.9" r="9.0"/>
<circle cx="940.2" cy="1522.2" r="9.0"/>
<circle cx="873.3" cy="1544.7" r="9.0"/>
<circle cx="958.9" cy="1536.2" r="9.0"/>
<circle cx="958.9" cy="1545.5" r="9.0"/>
<circle cx="939.5" cy="1538.5" r="9.0"/>
<circle cx="939.5" cy="1551.0" r="9.0"/>
<circle cx="936.4" cy="1561.8" r="9.0"/>
<circle cx="949.6" cy="1563.4" r="9.0"/>
<circle cx="860.1" cy="1602.3" r="9.0"/>
<circle cx="923.1" cy="1599.2" r="9.0"/>
<circle cx="935.6" cy="1599.2" r="9.0"/>
<circle cx="932.5" cy="1610.1" r="9.0"/>
<circle cx="927.8" cy="1625.6" r="9.0"/>
<circle cx="859.3" cy="1622.5" r="9.0"/>
<circle cx="1072.5" cy="1531.0" r="9.0"/>
<circle cx="1091.5" cy="1551.3" r="9.0"/>
<circle cx="1011.0" cy="1562.9" r="9.0"/>
<circle cx="1012.6" cy="1597.6" r="9.0"/>
<circle cx="963.9" cy="1605.4" r="9.0"/>
<circle cx="975.3" cy="1607.7" r="9.0"/>
<circle cx="993.2" cy="1621.8" r="9.0"/>
<circle cx="1037.5" cy="1621.0" r="9.0"/>
<circle cx="592.0" cy="1640.1" r="9.0"/>
<circle cx="599.8" cy="1644.0" r="9.0"/>
<circle cx="604.5" cy="1651.0" r="9.0"/>
<circle cx="655.0" cy="1653.0" r="9.0"/>
<circle cx="693.2" cy="1650.2" r="9.0"/>
<circle cx="753.8" cy="1636.2" r="9.0"/>
<circle cx="764.0" cy="1666.1" r="9.0"/>
<circle cx="686.9" cy="1668.1" r="9.0"/>
<circle cx="669.0" cy="1677.5" r="9.0"/>
<circle cx="677.6" cy="1688.4" r="9.0"/>
<circle cx="588.9" cy="1696.9" r="9.0"/>
<circle cx="568.7" cy="1710.6" r="9.0"/>
<circle cx="627.0" cy="1701.3" r="9.0"/>
<circle cx="666.7" cy="1716.8" r="9.0"/>
<circle cx="683.8" cy="1735.0" r="9.0"/>
<circle cx="551.6" cy="1757.9" r="9.0"/>
<circle cx="682.3" cy="1770.8" r="9.0"/>
<circle cx="603.2" cy="1793.1" r="9.0"/>
<circle cx="721.9" cy="1800.9" r="9.0"/>
<circle cx="726.6" cy="1820.6" r="9.0"/>
<circle cx="708.7" cy="1779.4" r="9.0"/>
<circle cx="669.8" cy="1847.8" r="9.0"/>
<circle cx="691.1" cy="1859.8" r="9.0"/>
<circle cx="721.9" cy="1879.3" r="9.0"/>
<circle cx="735.2" cy="1846.3" r="9.0"/>
<circle cx="749.9" cy="1853.3" r="9.0"/>
<circle cx="771.0" cy="1858.7" r="9.0"/>
<circle cx="774.1" cy="1692.2" r="9.0"/>
<circle cx="783.4" cy="1721.0" r="9.0"/>
<circle cx="790.4" cy="1740.5" r="9.0"/>
<circle cx="836.3" cy="1872.7" r="9.0"/>
<circle cx="946.5" cy="1643.2" r="9.0"/>
<circle cx="964.4" cy="1640.1" r="9.0"/>
<circle cx="934.8" cy="1663.5" r="9.0"/>
<circle cx="941.8" cy="1668.9" r="9.0"/>
<circle cx="941.0" cy="1676.7" r="9.0"/>
<circle cx="971.4" cy="1665.5" r="9.0"/>
<circle cx="1032.8" cy="1674.8" r="9.0"/>
<circle cx="946.5" cy="1693.0" r="9.0"/>
<circle cx="990.0" cy="1687.9" r="9.0"/>
<circle cx="982.3" cy="1691.5" r="9.0"/>
<circle cx="972.9" cy="1694.6" r="9.0"/>
<circle cx="960.0" cy="1710.6" r="9.0"/>
<circle cx="932.5" cy="1717.1" r="9.0"/>
<circle cx="988.0" cy="1722.1" r="9.0"/>
<circle cx="969.8" cy="1737.4" r="9.0"/>
<circle cx="922.4" cy="1737.1" r="9.0"/>
<circle cx="932.5" cy="1754.5" r="9.0"/>
<circle cx="927.8" cy="1757.6" r="9.0"/>
<circle cx="925.5" cy="1765.1" r="9.0"/>
<circle cx="942.1" cy="1765.1" r="9.0"/>
<circle cx="903.7" cy="1765.4" r="9.0"/>
<circle cx="912.2" cy="1781.7" r="9.0"/>
<circle cx="901.8" cy="1793.7" r="9.0"/>
<circle cx="926.2" cy="1801.2" r="9.0"/>
<circle cx="946.5" cy="1809.7" r="9.0"/>
<circle cx="894.3" cy="1810.5" r="9.0"/>
<circle cx="895.1" cy="1819.1" r="9.0"/>
<circle cx="910.4" cy="1819.1" r="9.0"/>
<circle cx="869.1" cy="1840.8" r="9.0"/>
<circle cx="924.7" cy="1840.8" r="9.0"/>
<circle cx="1061.3" cy="1819.1" r="9.0"/>
<circle cx="1121.5" cy="1800.9" r="9.0"/>
</g>
<g class="l">
<circle cx="533.2" cy="114.4" r="9.0"/>
<circle cx="554.4" cy="133.4" r="9.0"/>
<circle cx="550.4" cy="159.4" r="9.0"/>
<circle cx="572.0" cy="331.6" r="9.0"/>
<circle cx="592.5" cy="385.7" r="9.0"/>
<circle cx="549.2" cy="455.2" r="9.0"/>
<circle cx="631.5" cy="458.3" r="9.0"/>
<circle cx="615.6" cy="488.8" r="9.0"/>
<circle cx="602.3" cy="529.0" r="9.0"/>
<circle cx="531.3" cy="583.6" r="9.0"/>
<circle cx="549.2" cy="583.6" r="9.0"/>
<circle cx="553.7" cy="583.6" r="9.0"/>
<circle cx="577.0" cy="583.6" r="9.0"/>
<circle cx="586.9" cy="583.6" r="9.0"/>
<circle cx="593.2" cy="583.6" r="9.0"/>
<circle cx="599.4" cy="583.6" r="9.0"/>
<circle cx="605.6" cy="583.6" r="9.0"/>
<circle cx="616.0" cy="583.6" r="9.0"/>
<circle cx="624.3" cy="583.6" r="9.0"/>
<circle cx="630.5" cy="583.6" r="9.0"/>
<circle cx="636.7" cy="583.6" r="9.0"/>
<circle cx="644.0" cy="583.6" r="9.0"/>
<circle cx="652.9" cy="583.6" r="9.0"/>
<circle cx="609.8" cy="594.6" r="9.0"/>
<circle cx="577.4" cy="623.6" r="9.0"/>
<circle cx="611.4" cy="623.6" r="9.0"/>
<circle cx="617.6" cy="623.6" r="9.0"/>
<circle cx="620.1" cy="618.8" r="9.0"/>
<circle cx="632.6" cy="623.6" r="9.0"/>
<circle cx="653.3" cy="623.6" r="9.0"/>
<circle cx="618.0" cy="669.3" r="9.0"/>
<circle cx="623.9" cy="669.3" r="9.0"/>
<circle cx="562.7" cy="696.8" r="9.0"/>
<circle cx="625.3" cy="711.8" r="9.0"/>
<circle cx="644.0" cy="715.9" r="9.0"/>
<circle cx="648.8" cy="722.2" r="9.0"/>
<circle cx="647.7" cy="740.2" r="9.0"/>
<circle cx="591.5" cy="749.5" r="9.0"/>
<circle cx="621.8" cy="749.5" r="9.0"/>
<circle cx="644.0" cy="761.6" r="9.0"/>
<circle cx="601.5" cy="760.5" r="9.0"/>
<circle cx="595.2" cy="771.5" r="9.0"/>
<circle cx="598.3" cy="782.3" r="9.0"/>
<circle cx="625.9" cy="800.6" r="9.0"/>
<circle cx="595.6" cy="829.0" r="9.0"/>
<circle cx="630.5" cy="851.5" r="9.0"/>
<circle cx="654.4" cy="851.5" r="9.0"/>
<circle cx="664.7" cy="851.5" r="9.0"/>
<circle cx="633.2" cy="870.4" r="9.0"/>
<circle cx="628.0" cy="891.0" r="9.0"/>
<circle cx="663.7" cy="891.0" r="9.0"/>
<circle cx="668.9" cy="890.5" r="9.0"/>
<circle cx="678.8" cy="888.5" r="9.0"/>
<circle cx="621.2" cy="939.1" r="9.0"/>
<circle cx="561.6" cy="978.7" r="9.0"/>
<circle cx="606.6" cy="975.6" r="9.0"/>
<circle cx="614.9" cy="975.6" r="9.0"/>
<circle cx="634.6" cy="967.7" r="9.0"/>
<circle cx="632.6" cy="977.7" r="9.0"/>
<circle cx="639.8" cy="975.6" r="9.0"/>
<circle cx="642.5" cy="991.2" r="9.0"/>
<circle cx="611.2" cy="1015.0" r="9.0"/>
<circle cx="594.6" cy="1021.7" r="9.0"/>
<circle cx="627.4" cy="1052.4" r="9.0"/>
<circle cx="625.9" cy="1057.6" r="9.0"/>
<circle cx="622.6" cy="1063.8" r="9.0"/>
<circle cx="637.1" cy="1080.8" r="9.0"/>
<circle cx="677.6" cy="1075.8" r="9.0"/>
<circle cx="607.1" cy="1100.9" r="9.0"/>
<circle cx="668.3" cy="1115.6" r="9.0"/>
<circle cx="634.6" cy="1124.4" r="9.0"/>
<circle cx="534.0" cy="1126.4" r="9.0"/>
<circle cx="692.7" cy="1133.9" r="9.0"/>
<circle cx="686.5" cy="1139.5" r="9.0"/>
<circle cx="591.1" cy="1146.1" r="9.0"/>
<circle cx="616.0" cy="1148.8" r="9.0"/>
<circle cx="624.3" cy="1149.5" r="9.0"/>
<circle cx="664.1" cy="1154.4" r="9.0"/>
<circle cx="617.6" cy="1168.5" r="9.0"/>
<circle cx="666.2" cy="1167.5" r="9.0"/>
<circle cx="682.4" cy="1168.5" r="9.0"/>
<circle cx="697.9" cy="1177.3" r="9.0"/>
<circle cx="550.6" cy="1181.8" r="9.0"/>
<circle cx="652.3" cy="1183.5" r="9.0"/>
<circle cx="677.8" cy="1191.4" r="9.0"/>
<circle cx="702.1" cy="1199.7" r="9.0"/>
<circle cx="590.5" cy="1203.8" r="9.0"/>
<circle cx="651.7" cy="1209.6" r="9.0"/>
<circle cx="637.8" cy="1222.5" r="9.0"/>
<circle cx="674.5" cy="1222.1" r="9.0"/>
<circle cx="565.6" cy="1234.4" r="9.0"/>
<circle cx="600.0" cy="1233.3" r="9.0"/>
<circle cx="640.9" cy="1248.9" r="9.0"/>
<circle cx="678.8" cy="1246.0" r="9.0"/>
<circle cx="661.6" cy="1262.6" r="9.0"/>
<circle cx="673.0" cy="1262.0" r="9.0"/>
<circle cx="681.3" cy="1265.1" r="9.0"/>
<circle cx="628.4" cy="1268.2" r="9.0"/>
<circle cx="624.3" cy="1283.7" r="9.0"/>
<circle cx="678.2" cy="1283.7" r="9.0"/>
<circle cx="686.5" cy="1284.8" r="9.0"/>
<circle cx="701.7" cy="1283.1" r="9.0"/>
<circle cx="663.7" cy="1293.1" r="9.0"/>
<circle cx="711.0" cy="1297.2" r="9.0"/>
<circle cx="640.9" cy="1311.1" r="9.0"/>
<circle cx="650.8" cy="1308.6" r="9.0"/>
<circle cx="664.7" cy="1309.7" r="9.0"/>
<circle cx="697.9" cy="1312.8" r="9.0"/>
<circle cx="1130.9" cy="114.4" r="9.0"/>
<circle cx="1092.7" cy="403.4" r="9.0"/>
<circle cx="1060.2" cy="512.6" r="9.0"/>
<circle cx="1150.4" cy="512.6" r="9.0"/>
<circle cx="1060.6" cy="583.8" r="9.0"/>
<circle cx="1064.7" cy="583.8" r="9.0"/>
<circle cx="1069.9" cy="583.8" r="9.0"/>
<circle cx="1074.1" cy="583.8" r="9.0"/>
<circle cx="1124.9" cy="583.8" r="9.0"/>
<circle cx="1101.0" cy="623.6" r="9.0"/>
<circle cx="1134.4" cy="669.7" r="9.0"/>
<circle cx="1197.7" cy="678.8" r="9.0"/>
<circle cx="1102.5" cy="749.8" r="9.0"/>
<circle cx="1077.0" cy="761.2" r="9.0"/>
<circle cx="1070.1" cy="787.1" r="9.0"/>
<circle cx="949.2" cy="829.3" r="9.0"/>
<circle cx="953.7" cy="829.3" r="9.0"/>
<circle cx="948.1" cy="845.3" r="9.0"/>
<circle cx="977.8" cy="891.0" r="9.0"/>
<circle cx="1099.6" cy="895.7" r="9.0"/>
<circle cx="946.5" cy="917.1" r="9.0"/>
<circle cx="983.2" cy="920.0" r="9.0"/>
<circle cx="1002.1" cy="928.1" r="9.0"/>
<circle cx="1025.7" cy="916.9" r="9.0"/>
<circle cx="1197.3" cy="921.2" r="9.0"/>
<circle cx="977.6" cy="961.1" r="9.0"/>
<circle cx="975.5" cy="979.3" r="9.0"/>
<circle cx="1008.7" cy="975.2" r="9.0"/>
<circle cx="1016.0" cy="978.7" r="9.0"/>
<circle cx="1025.9" cy="980.2" r="9.0"/>
<circle cx="1042.9" cy="984.9" r="9.0"/>
<circle cx="1072.6" cy="995.9" r="9.0"/>
<circle cx="1129.9" cy="999.7" r="9.0"/>
<circle cx="1042.5" cy="1025.0" r="9.0"/>
<circle cx="966.0" cy="1040.7" r="9.0"/>
<circle cx="1083.2" cy="1054.9" r="9.0"/>
<circle cx="1030.9" cy="1076.8" r="9.0"/>
<circle cx="980.9" cy="1081.2" r="9.0"/>
<circle cx="999.0" cy="1095.3" r="9.0"/>
<circle cx="936.1" cy="1106.3" r="9.0"/>
<circle cx="1039.8" cy="1115.6" r="9.0"/>
<circle cx="1068.7" cy="1110.7" r="9.0"/>
<circle cx="1234.2" cy="1181.8" r="9.0"/>
<circle cx="1050.3" cy="1133.9" r="9.0"/>
<circle cx="1037.8" cy="1146.0" r="9.0"/>
<circle cx="927.0" cy="1145.6" r="9.0"/>
<circle cx="934.8" cy="1148.7" r="9.0"/>
<circle cx="953.2" cy="1154.1" r="9.0"/>
<circle cx="1054.6" cy="1173.1" r="9.0"/>
<circle cx="922.5" cy="1181.3" r="9.0"/>
<circle cx="937.1" cy="1199.2" r="9.0"/>
<circle cx="941.8" cy="1206.2" r="9.0"/>
<circle cx="1010.7" cy="1201.9" r="9.0"/>
<circle cx="1056.2" cy="1209.4" r="9.0"/>
<circle cx="1064.4" cy="1212.5" r="9.0"/>
<circle cx="921.9" cy="1216.4" r="9.0"/>
<circle cx="946.5" cy="1226.5" r="9.0"/>
<circle cx="952.7" cy="1229.6" r="9.0"/>
<circle cx="965.1" cy="1232.7" r="9.0"/>
<circle cx="985.4" cy="1233.5" r="9.0"/>
<circle cx="1018.8" cy="1226.5" r="9.0"/>
<circle cx="931.7" cy="1242.0" r="9.0"/>
<circle cx="1015.4" cy="1246.7" r="9.0"/>
<circle cx="986.6" cy="1259.1" r="9.0"/>
<circle cx="1056.2" cy="1271.6" r="9.0"/>
<circle cx="1080.0" cy="1284.0" r="9.0"/>
<circle cx="1080.8" cy="1309.7" r="9.0"/>
<circle cx="1149.4" cy="1292.9" r="9.0"/>
</g>
<g class="t">
<circle cx="953.2" cy="1177.0" r="9.0"/>
<circle cx="952.7" cy="1259.1" r="9.0"/>
<circle cx="934.8" cy="1311.0" r="9.0"/>
</g>
<g class="s">
<circle cx="1026.8" cy="790.6" r="9.0"/>
<circle cx="991.9" cy="1113.4" r="9.0"/>
<circle cx="1002.2" cy="1160.8" r="9.0"/>
<circle cx="949.1" cy="1195.0" r="9.0"/>
<circle cx="960.2" cy="1233.5" r="9.0"/>
<circle cx="943.4" cy="1246.7" r="9.0"/>
<circle cx="977.9" cy="1249.0" r="9.0"/>
<circle cx="961.3" cy="1271.6" r="9.0"/>
<circle cx="961.7" cy="1293.4" r="9.0"/>
<circle cx="996.0" cy="1293.1" r="9.0"/>
<circle cx="931.7" cy="1297.3" r="9.0"/>
<circle cx="923.9" cy="1307.4" r="9.0"/>
<circle cx="1281.0" cy="1149.5" r="9.0"/>
</g>
<g class="t">
<circle cx="623.9" cy="769.9" r="9.0"/>
<circle cx="452.1" cy="1126.4" r="9.0"/>
<circle cx="657.5" cy="1203.8" r="9.0"/>
<circle cx="699.0" cy="1244.7" r="9.0"/>
<circle cx="707.9" cy="1307.6" r="9.0"/>
<circle cx="988.6" cy="979.1" r="9.0"/>
<circle cx="1004.1" cy="980.2" r="9.0"/>
<circle cx="927.8" cy="1222.9" r="9.0"/>
<circle cx="916.9" cy="1262.0" r="9.0"/>
<circle cx="904.5" cy="1269.0" r="9.0"/>
<circle cx="945.7" cy="1268.5" r="9.0"/>
<circle cx="955.0" cy="1278.6" r="9.0"/>
</g>
<line x1="128.6" y1="1320.9" x2="1481.3" y2="1320.9" stroke="#000" stroke-width="4.3" stroke-dasharray="17.8 17.83" stroke-dashoffset="0"/>
<rect x="130.3" y="26.9" width="1351.0" height="1944.3" fill="none" stroke="#383838" stroke-width="2.6" stroke-linejoin="round"/>
<path d="M130.3 25.4V1971.2H1482.8" fill="none" stroke="#000" stroke-width="4.4" stroke-linejoin="round"/>
<line x1="191.4" y1="1971.2" x2="191.4" y2="1983.7" stroke="#333" stroke-width="3.1"/>
<text class="tk" x="191.4" y="2019" text-anchor="middle">-0.50</text>
<line x1="498.9" y1="1971.2" x2="498.9" y2="1983.7" stroke="#333" stroke-width="3.1"/>
<text class="tk" x="498.9" y="2019" text-anchor="middle">-0.25</text>
<line x1="806.5" y1="1971.2" x2="806.5" y2="1983.7" stroke="#333" stroke-width="3.1"/>
<text class="tk" x="806.5" y="2019" text-anchor="middle">0.00</text>
<line x1="1114.0" y1="1971.2" x2="1114.0" y2="1983.7" stroke="#333" stroke-width="3.1"/>
<text class="tk" x="1114.0" y="2019" text-anchor="middle">0.25</text>
<line x1="1421.6" y1="1971.2" x2="1421.6" y2="1983.7" stroke="#333" stroke-width="3.1"/>
<text class="tk" x="1421.6" y="2019" text-anchor="middle">0.50</text>
<line x1="117.80000000000001" y1="1934.9" x2="130.3" y2="1934.9" stroke="#333" stroke-width="3.1"/>
<text class="tk" x="109.5" y="1948.3" text-anchor="end">0</text>
<line x1="117.80000000000001" y1="1462.7" x2="130.3" y2="1462.7" stroke="#333" stroke-width="3.1"/>
<text class="tk" x="109.5" y="1476.1" text-anchor="end">1</text>
<line x1="117.80000000000001" y1="990.5" x2="130.3" y2="990.5" stroke="#333" stroke-width="3.1"/>
<text class="tk" x="109.5" y="1003.9" text-anchor="end">2</text>
<line x1="117.80000000000001" y1="518.3" x2="130.3" y2="518.3" stroke="#333" stroke-width="3.1"/>
<text class="tk" x="109.5" y="531.7" text-anchor="end">3</text>
<line x1="117.80000000000001" y1="46.1" x2="130.3" y2="46.1" stroke="#333" stroke-width="3.1"/>
<text class="tk" x="109.5" y="59.5" text-anchor="end">4</text>
<text class="ti" x="805.8" y="2071.6" text-anchor="middle">Effect Size</text>
<text class="ti" transform="translate(66,999.1) rotate(-90)" text-anchor="middle">Minus log-base-10 q-value, -log10(q-value)</text>
<text class="ti" x="1550" y="717">CompG</text>
<g class="g"><circle cx="1587" cy="780" r="9.0"/></g>
<text class="lb" x="1646" y="792.6">Non-Significant mm</text>
<g class="g"><circle cx="1587" cy="852" r="9.0"/></g>
<text class="lb" x="1646" y="864.6">Non-Significant mM</text>
<g class="g"><circle cx="1587" cy="924" r="9.0"/></g>
<text class="lb" x="1646" y="936.6">Non-Significant Mm</text>
<g class="l"><circle cx="1587" cy="996" r="9.0"/></g>
<text class="lb" x="1646" y="1008.6">Significant mm</text>
<g class="l"><circle cx="1587" cy="1068" r="9.0"/></g>
<text class="lb" x="1646" y="1080.6">Significant mM</text>
<g class="l"><circle cx="1587" cy="1140" r="9.0"/></g>
<text class="lb" x="1646" y="1152.6">Significant Mm</text>
<g class="s"><circle cx="1587" cy="1212" r="9.0"/></g>
<text class="lb" x="1646" y="1224.6">Table 3 Significant mm</text>
<g class="t"><circle cx="1587" cy="1284" r="9.0"/></g>
<text class="lb" x="1646" y="1296.6">Table 3 Significant mM</text>
</svg></body></html>
